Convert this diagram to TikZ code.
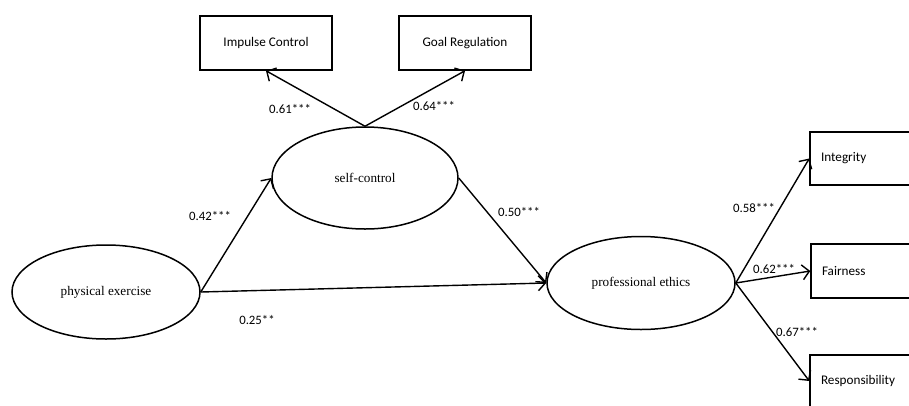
\documentclass[tikz,border=0pt]{standalone}
\usepackage{fontspec}
\setmainfont{Liberation Serif}
\newfontfamily\calib{Carlito}
\usetikzlibrary{shapes.geometric,arrows.meta}
\begin{document}
\begin{tikzpicture}[x=1pt,y=-1pt,
  lat/.style={ellipse,draw,line width=1.5pt,inner sep=0pt,font=\fontsize{13.2}{15}\selectfont},
  obs/.style={rectangle,draw,line width=1.5pt,inner sep=0pt,font=\calib\fontsize{13.2}{15}\selectfont},
  path/.style={line width=1.4pt,-{Straight Barb[length=7pt,width=15pt,line width=1.4pt]}},
  coef/.style={font=\calib\fontsize{12.8}{15}\selectfont,inner sep=0pt}]
\useasboundingbox (0,0) rectangle (909,405);
\clip (0,0) rectangle (909,405);
% latent variables
\node[lat,minimum width=188pt,minimum height=94pt] (pe) at (106,292) {physical exercise};
\node[lat,minimum width=186pt,minimum height=102pt] (sc) at (365,178) {self-control};
\node[lat,minimum width=188pt,minimum height=93pt] (pr) at (641,283) {professional ethics};
% observed variables
\node[obs,minimum width=132pt,minimum height=54pt] (ic) at (266,43) {Impulse Control};
\node[obs,minimum width=132pt,minimum height=54pt] (gr) at (465,43) {Goal Regulation};
\node[obs,minimum width=110pt,minimum height=53pt,text width=96pt,align=left] (in) at (865,158.5) {\hspace{4pt}Integrity};
\node[obs,minimum width=110pt,minimum height=54pt,text width=96pt,align=left] (fa) at (866,271) {\hspace{4pt}Fairness};
\node[obs,minimum width=110pt,minimum height=52pt,text width=96pt,align=left] (re) at (865,381) {\hspace{4pt}Responsibility};
% paths
\draw[path] (sc.north) -- (ic.south);
\draw[path] (sc.north) -- (gr.south);
\draw[path] (pe.east) -- (sc.west);
\draw[path] (pe.east) -- (pr.west);
\draw[path] (sc.east) -- (pr.west);
\draw[path] (pr.east) -- (in.west);
\draw[path] (pr.east) -- (fa.west);
\draw[path] (pr.east) -- (re.west);
% coefficients
\node[coef] (c1) at (290,109) {0.61***};
\node[coef] (c2) at (434,106) {0.64***};
\node[coef] (c3) at (210,216) {0.42***};
\node[coef] (c4) at (519,212) {0.50***};
\node[coef] (c5) at (257,320) {0.25**};
\node[coef] (c6) at (754,208) {0.58***};
\node[coef] (c7) at (774,269) {0.62***};
\node[coef] (c8) at (797,332) {0.67***};
\end{tikzpicture}
\end{document}
